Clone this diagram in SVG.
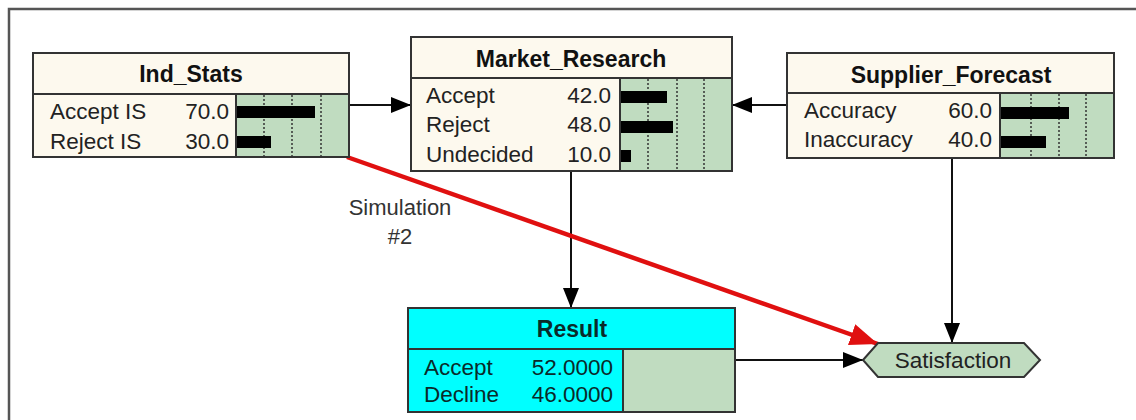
<svg xmlns="http://www.w3.org/2000/svg" width="1136" height="420" viewBox="0 0 1136 420">
  <defs>
    <style>
      .frame { fill: none; stroke: #555; stroke-width: 2.5; }
      .box { fill: #fdf9ee; stroke: #333; stroke-width: 2; }
      .cyan { fill: #00ffff; stroke: #333; stroke-width: 2; }
      .monitor { fill: #c0dcc0; stroke: #333; stroke-width: 2; }
      .grid { stroke: #333; stroke-width: 1.5; stroke-dasharray: 2 2; }
      .bar { fill: #000; }
      .title { font-family: "Liberation Sans", Arial, sans-serif; font-size: 23px; font-weight: bold; fill: #111; text-anchor: middle; }
      .lbl { font-family: "Liberation Sans", Arial, sans-serif; font-size: 22.5px; fill: #222; }
      .val { font-family: "Liberation Sans", Arial, sans-serif; font-size: 22.5px; fill: #222; text-anchor: end; }
      .dark { fill: #0a2a2a; }
      .link { stroke: #111; stroke-width: 2; fill: none; }
      .sim { stroke: #e01010; stroke-width: 4.5; fill: none; }
      .note { font-family: "Liberation Sans", Arial, sans-serif; font-size: 22px; fill: #333; text-anchor: middle; }
    </style>
    <marker id="head" viewBox="0 0 20 16" refX="20" refY="8" markerWidth="20" markerHeight="16" markerUnits="userSpaceOnUse" orient="auto">
      <path d="M0,0 L20,8 L0,16 Z" fill="#000"/>
    </marker>
    <marker id="redhead" viewBox="0 0 28 22" refX="28" refY="11" markerWidth="28" markerHeight="22" markerUnits="userSpaceOnUse" orient="auto">
      <path d="M0,0 L28,11 L0,22 Z" fill="#e01010"/>
    </marker>
  </defs>

  <rect width="1136" height="420" fill="#fff"/>
  <!-- window frame: only top and left edges are shown -->
  <path class="frame" d="M9,420 L9,9 L1136,9"/>

  <!-- connectors -->
  <g id="connectors">
    <line class="link" x1="349" y1="105" x2="411" y2="105" marker-end="url(#head)"/>
    <line class="link" x1="787" y1="105" x2="732" y2="105" marker-end="url(#head)"/>
    <line class="link" x1="571" y1="171" x2="571" y2="308" marker-end="url(#head)"/>
    <line class="link" x1="952" y1="158" x2="952" y2="343" marker-end="url(#head)"/>
    <line class="link" x1="735" y1="360" x2="863" y2="360" marker-end="url(#head)"/>
    <line class="sim" x1="347" y1="157" x2="878" y2="344" marker-end="url(#redhead)"/>
  </g>

  <!-- annotation -->
  <g id="sim-label">
    <text class="note" x="400" y="215">Simulation</text>
    <text class="note" x="400" y="244">#2</text>
  </g>

  <!-- Ind_Stats -->
  <g id="ind-stats">
    <rect class="box" x="33" y="53" width="316" height="41"/>
    <rect class="box" x="33" y="94" width="316" height="63"/>
    <rect class="monitor" x="236" y="94" width="113" height="63"/>
    <line class="grid" x1="264" y1="95" x2="264" y2="156"/>
    <line class="grid" x1="292" y1="95" x2="292" y2="156"/>
    <line class="grid" x1="321" y1="95" x2="321" y2="156"/>
    <rect class="bar" x="237" y="106" width="78" height="12"/>
    <rect class="bar" x="237" y="136" width="34" height="12"/>
    <text class="title" x="191" y="82">Ind_Stats</text>
    <text class="lbl" x="50" y="119">Accept IS</text>
    <text class="lbl" x="50" y="149">Reject IS</text>
    <text class="val" x="229" y="119">70.0</text>
    <text class="val" x="229" y="149">30.0</text>
  </g>

  <!-- Market_Research -->
  <g id="market-research">
    <rect class="box" x="411" y="37" width="321" height="41"/>
    <rect class="box" x="411" y="78" width="321" height="93"/>
    <rect class="monitor" x="620" y="78" width="112" height="93"/>
    <line class="grid" x1="648" y1="79" x2="648" y2="170"/>
    <line class="grid" x1="677" y1="79" x2="677" y2="170"/>
    <line class="grid" x1="704" y1="79" x2="704" y2="170"/>
    <rect class="bar" x="621" y="91" width="46" height="12"/>
    <rect class="bar" x="621" y="121" width="52" height="12"/>
    <rect class="bar" x="621" y="150" width="10" height="12"/>
    <text class="title" x="571" y="67">Market_Research</text>
    <text class="lbl" x="426" y="103">Accept</text>
    <text class="lbl" x="426" y="132">Reject</text>
    <text class="lbl" x="426" y="162">Undecided</text>
    <text class="val" x="611" y="103">42.0</text>
    <text class="val" x="611" y="132">48.0</text>
    <text class="val" x="611" y="162">10.0</text>
  </g>

  <!-- Supplier_Forecast -->
  <g id="supplier-forecast">
    <rect class="box" x="787" y="53" width="327" height="40"/>
    <rect class="box" x="787" y="93" width="327" height="65"/>
    <rect class="monitor" x="1000" y="93" width="114" height="65"/>
    <line class="grid" x1="1031" y1="94" x2="1031" y2="157"/>
    <line class="grid" x1="1059" y1="94" x2="1059" y2="157"/>
    <line class="grid" x1="1086" y1="94" x2="1086" y2="157"/>
    <rect class="bar" x="1001" y="107" width="68" height="12"/>
    <rect class="bar" x="1001" y="136" width="45" height="12"/>
    <text class="title" x="951" y="83">Supplier_Forecast</text>
    <text class="lbl" x="804" y="118">Accuracy</text>
    <text class="lbl" x="804" y="147">Inaccuracy</text>
    <text class="val" x="992" y="118">60.0</text>
    <text class="val" x="992" y="147">40.0</text>
  </g>

  <!-- Result -->
  <g id="result">
    <rect class="cyan" x="408" y="308" width="327" height="41"/>
    <rect class="cyan" x="408" y="349" width="327" height="63"/>
    <rect class="monitor" x="623" y="349" width="112" height="63"/>
    <text class="title dark" x="572" y="337">Result</text>
    <text class="lbl dark" x="424" y="375">Accept</text>
    <text class="lbl dark" x="424" y="402">Decline</text>
    <text class="val dark" x="613" y="375">52.0000</text>
    <text class="val dark" x="613" y="402">46.0000</text>
  </g>

  <!-- Satisfaction -->
  <g id="satisfaction">
    <polygon points="863,360 878,343 1024,343 1040,360 1024,377 878,377" fill="#c0dcc0" stroke="#333" stroke-width="2"/>
    <text class="lbl" x="953" y="368" text-anchor="middle" fill="#223322">Satisfaction</text>
  </g>
</svg>
